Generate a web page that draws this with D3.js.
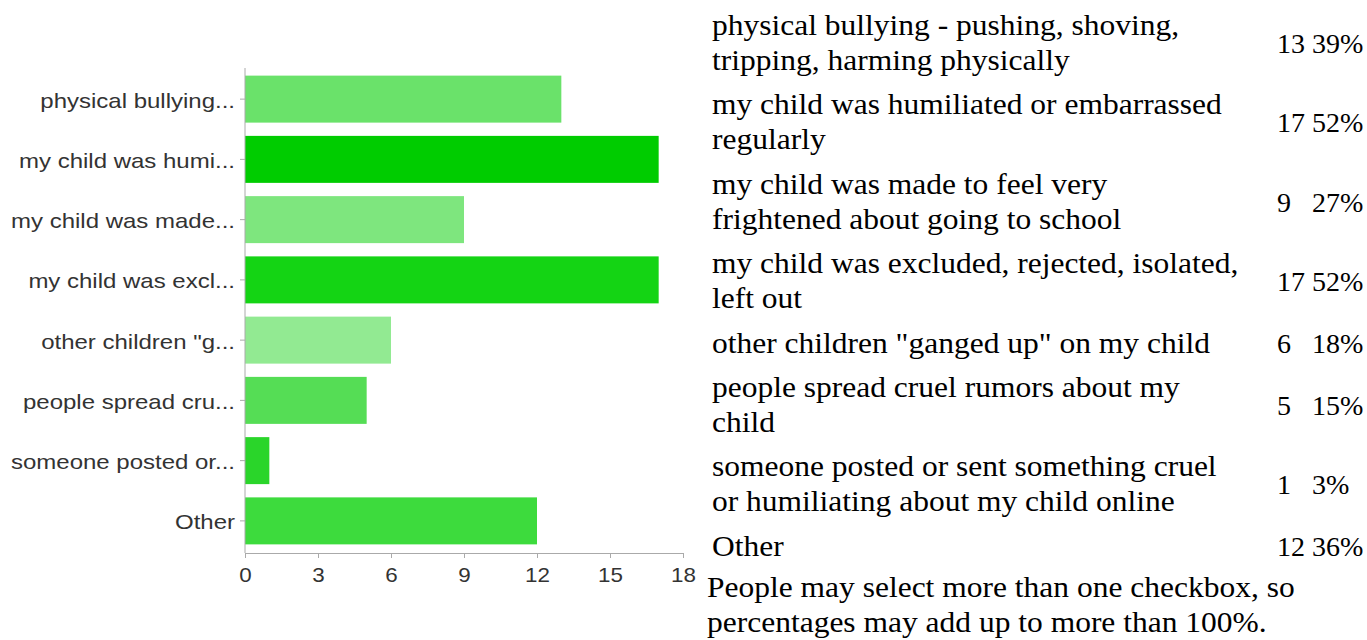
<!DOCTYPE html>
<html>
<head>
<meta charset="utf-8">
<script src="https://cdn.jsdelivr.net/npm/d3@7"></script>
<style>
	body { margin: 0; background: #fff; }
	.axis text { font-family: 'Liberation Sans', Arial, sans-serif; font-size: 20px; fill: #333; }
	.axis path, .axis line { stroke: #aaa; }
	.table text { font-family: 'Liberation Serif', 'Times New Roman', serif; font-size: 30px; fill: #000; }
	.table text.num { font-size: 28px; }
</style>
</head>
<body>
<div id="chart-container"></div>
<script>
const shortLabels = [
	'physical bullying...',
	'my child was humi...',
	'my child was made...',
	'my child was excl...',
	'other children "g...',
	'people spread cru...',
	'someone posted or...',
	'Other'
];
const tableLabels = [
	['physical bullying - pushing, shoving,', 'tripping, harming physically'],
	['my child was humiliated or embarrassed', 'regularly'],
	['my child was made to feel very', 'frightened about going to school'],
	['my child was excluded, rejected, isolated,', 'left out'],
	['other children "ganged up" on my child'],
	['people spread cruel rumors about my', 'child'],
	['someone posted or sent something cruel', 'or humiliating about my child online'],
	['Other']
];
const counts = [13, 17, 9, 17, 6, 5, 1, 12];
const percents = ['39%', '52%', '27%', '52%', '18%', '15%', '3%', '36%'];
const barColors = ['#6ae26a', '#00cc00', '#7ee67e', '#14d414', '#92ea92', '#55dd55', '#2ad52a', '#3ddb3d'];
const xTicks = [0, 3, 6, 9, 12, 15, 18];
const footnote = ['People may select more than one checkbox, so', 'percentages may add up to more than 100%.'];

const width = 1367,
	height = 640;

// the source fonts run a little wider than the installed ones
const sansStretch = 1.2,
	serifStretch = 1.05;

const svg = d3
	.select('#chart-container')
	.append('svg')
	.attr('width', width)
	.attr('height', height);

// bar chart
const x = d3.scaleLinear().domain([0, 18]).range([245, 683]);
const y = d3
	.scaleBand()
	.domain(shortLabels)
	.range([69, 551])
	.paddingInner(0.22)
	.paddingOuter(0.11);

svg
	.append('g')
	.selectAll('rect')
	.data(counts)
	.enter()
	.append('rect')
	.attr('x', x(0))
	.attr('y', (d, i) => y(shortLabels[i]))
	.attr('width', d => x(d) - x(0))
	.attr('height', y.bandwidth())
	.attr('fill', (d, i) => barColors[i]);

svg
	.append('g')
	.attr('class', 'axis')
	.attr('transform', 'translate(0,553)')
	.call(d3.axisBottom(x).tickValues(xTicks).tickSize(5).tickSizeOuter(0))
	.selectAll('text')
	.attr('y', 15)
	.attr('transform', 'scale(1.12,1)');

const yAxis = svg
	.append('g')
	.attr('class', 'axis')
	.attr('transform', 'translate(245,0)')
	.call(d3.axisLeft(y).tickSize(5).tickSizeOuter(0));
yAxis.select('.domain').remove();
yAxis
	.selectAll('.tick text')
	.attr('x', -10 / sansStretch)
	.attr('dy', '0.42em')
	.attr('transform', 'scale(' + sansStretch + ',1)');
yAxis
	.append('line')
	.attr('x1', 0)
	.attr('x2', 0)
	.attr('y1', 68)
	.attr('y2', 553)
	.attr('stroke', '#aaa');

// response table
const table = svg.append('g').attr('class', 'table');
const lineH = 35,
	rowPad = 9.4;
let rowTop = 9;

const putText = (g, str, tx, ty) =>
	g
		.append('text')
		.attr('transform', 'translate(' + tx + ',' + ty + ') scale(' + serifStretch + ',1)')
		.text(str);

tableLabels.forEach((lines, i) => {
	const row = table.append('g').attr('transform', 'translate(0,' + rowTop + ')');
	lines.forEach((line, j) => putText(row, line, 712, j * lineH + 26));
	const mid = (lines.length * lineH) / 2 + 9;
	row.append('text').attr('class', 'num').attr('x', 1277).attr('y', mid).text(counts[i]);
	row.append('text').attr('class', 'num').attr('x', 1312).attr('y', mid).text(percents[i]);
	rowTop += lines.length * lineH + rowPad;
});

footnote.forEach((line, j) => putText(table, line, 707, rowTop + j * lineH + 23));
</script>
</body>
</html>
